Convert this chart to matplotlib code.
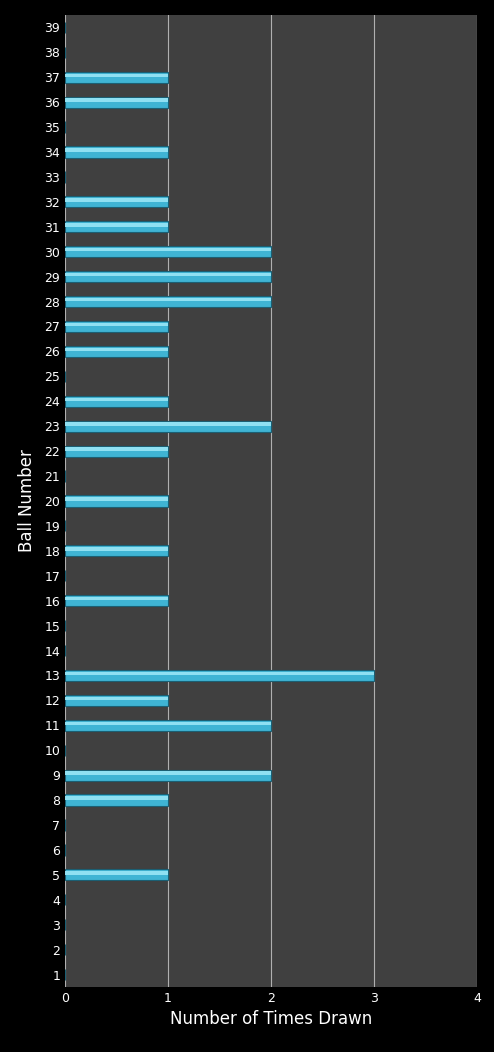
import matplotlib.pyplot as plt
import numpy as np

balls = list(range(1, 40))
drawn = {5: 1, 8: 1, 9: 2, 11: 2, 12: 1, 13: 3, 16: 1, 18: 1, 20: 1, 22: 1,
         23: 2, 24: 1, 26: 1, 27: 1, 28: 2, 29: 2, 30: 2, 31: 1, 32: 1,
         34: 1, 36: 1, 37: 1}
counts = [drawn.get(b, 0) for b in balls]

fig = plt.figure(figsize=(4.94, 10.52), dpi=100, facecolor='black')
ax = fig.add_axes([0.1316, 0.0618, 0.834, 0.924])
ax.set_facecolor('#404040')

y = np.array(balls)
x = np.array(counts)
# main bar plus a lighter highlight strip for the bevel look
ax.barh(y, x, height=0.45, color='#3fb4d4', edgecolor='#1b5f73', linewidth=0.8, zorder=3)
ax.barh(y + 0.08, x, height=0.14, color='#8fe0f2', linewidth=0, zorder=4)

ax.set_xlim(0, 4)
ax.set_ylim(0.5, 39.5)
ax.set_xticks([0, 1, 2, 3, 4])
ax.set_yticks(balls)
ax.grid(axis='x', color='#b0b0b0', linewidth=0.8, zorder=1)
for s in ax.spines.values():
    s.set_visible(False)
ax.tick_params(colors='white', labelsize=9, length=0)
ax.set_xlabel('Number of Times Drawn', color='white', fontsize=12)
ax.set_ylabel('Ball Number', color='white', fontsize=12)
ax.yaxis.labelpad = 6

fig.savefig('out.png', facecolor='black')
